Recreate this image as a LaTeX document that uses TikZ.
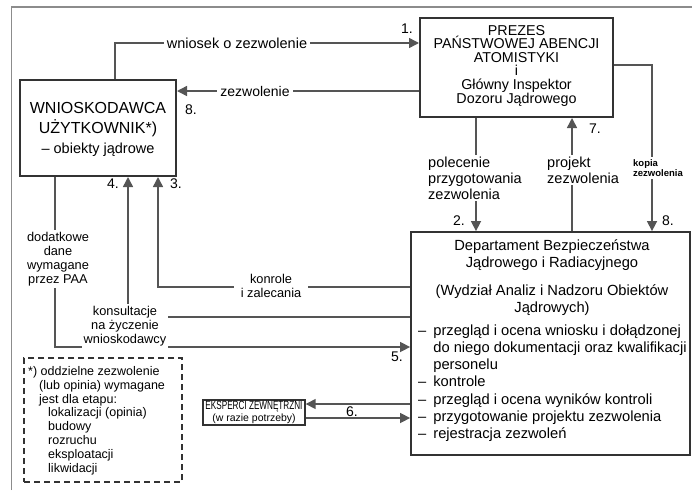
\documentclass[tikz,border=0pt]{standalone}
\usepackage{fontspec}
\setmainfont{Liberation Sans}
\newfontfamily\narrowfont[FakeStretch=0.68]{Liberation Sans}
\usetikzlibrary{arrows.meta}
\definecolor{lin}{HTML}{555555}
\definecolor{brd}{HTML}{333333}
\begin{document}
\begin{tikzpicture}[x=1pt,y=-1pt,
  box/.style={draw=brd,line width=2pt,fill=white,inner sep=0pt},
  conn/.style={draw=lin,line width=1.5pt},
  arr/.style={conn,-{Triangle[length=10pt,width=10pt]}},
  lbl/.style={fill=white,inner xsep=3pt,inner ysep=2pt},
  f145/.style={font=\fontsize{14.5}{16}\selectfont},
  f13/.style={font=\fontsize{12.8}{14.2}\selectfont},
  num/.style={font=\fontsize{14}{16}\selectfont,inner sep=0pt},
]
\useasboundingbox (0,0) rectangle (692,490);
\draw[draw=black!45,line width=1.3pt] (11.5,490) -- (11.5,7) -- (692,7);

% boxes
\node[box,minimum width=193pt,minimum height=99pt] (prez) at (516.5,67.5) {};
\node[align=center,font=\fontsize{14.3}{13.6}\selectfont] (prezt) at (516.5,65.5)
  {\lineskiplimit=-20pt\relax PREZES\\PAŃSTWOWEJ ABENCJI\\ATOMISTYKI\\i\\Główny Inspektor\\Dozoru Jądrowego};

\node[box,minimum width=156pt,minimum height=96pt] (wn) at (98,128) {};
\node[align=center,font=\fontsize{16}{20}\selectfont] (wnt) at (98,129)
  {WNIOSKODAWCA\\UŻYTKOWNIK*)\\\fontsize{14.5}{18}\selectfont – obiekty jądrowe};

\node[box,line width=1.8pt,minimum width=279pt,minimum height=223pt] (dbj) at (550.5,343.5) {};
\node[align=center,font=\fontsize{14.7}{17}\selectfont] (dbjt) at (552,255)
  {Departament Bezpieczeństwa\\Jądrowego i Radiacyjnego};
\node[align=center,font=\fontsize{14.7}{17}\selectfont] (dbjs) at (552,300)
  {(Wydział Analiz i Nadzoru Obiektów\\Jądrowych)};
\node[anchor=north west,inner sep=0pt,font=\fontsize{14.7}{17.2}\selectfont] (dbjl) at (418,323)
  {\begin{tabular}{@{}l@{\hspace{7pt}}l@{}}
   – & przegląd i ocena wniosku i dołądzonej\\
     & do niego dokumentacji oraz kwalifikacji\\
     & personelu\\
   – & kontrole\\
   – & przegląd i ocena wyników kontroli\\
   – & przygotowanie projektu zezwolenia\\
   – & rejestracja zezwoleń
   \end{tabular}};

\node[box,line width=1.4pt,minimum width=102pt,minimum height=25pt] (eks) at (254,412.5) {};
\node[align=center,inner sep=0pt] (ekst) at (254,412.5)
  {{\narrowfont\fontsize{12}{12.5}\selectfont EKSPERCI ZEWNĘTRZNI}\\{\fontsize{10.5}{12.5}\selectfont (w razie potrzeby)}};

\node[draw=black!80,dash pattern=on 6pt off 4pt,line width=1.3pt,minimum width=158pt,minimum height=124pt] (note) at (103,420) {};
\node[anchor=north west,align=left,inner sep=0pt,font=\fontsize{12.5}{13.9}\selectfont] (notet) at (28,366)
  {*) oddzielne zezwolenie\\
   \hspace*{11pt}(lub opinia) wymagane\\
   \hspace*{11pt}jest dla etapu:\\
   \hspace*{20pt}lokalizacji (opinia)\\
   \hspace*{20pt}budowy\\
   \hspace*{20pt}rozruchu\\
   \hspace*{20pt}eksploatacji\\
   \hspace*{20pt}likwidacji};

% helper coordinates
\coordinate (c1) at (115,43);
\coordinate (c2) at (0,91);
\coordinate (c3) at (476,0);
\coordinate (c4) at (572,0);
\coordinate (c5) at (652,65);
\coordinate (c6) at (158,287);
\coordinate (c7) at (128,317);
\coordinate (c8) at (55,347);
\coordinate (c9) at (0,404);
\coordinate (c10) at (0,418);

% connectors
\draw[arr] (wn.north -| c1) |- (prez.west |- c1);
\draw[arr] (prez.west |- c2) -- (wn.east |- c2);
\draw[arr] (prez.south -| c3) -- (dbj.north -| c3);
\draw[arr] (dbj.north -| c4) -- (prez.south -| c4);
\draw[arr] (prez.east |- c5) -| (dbj.north -| c5);
\draw[arr] (dbj.west |- c6) -| (wn.south -| c6);
\draw[arr] (dbj.west |- c7) -| (wn.south -| c7);
\draw[arr] (wn.south -| c8) |- (dbj.west |- c8);
\draw[arr] (dbj.west |- c9) -- (eks.east |- c9);
\draw[arr] (eks.east |- c10) -- (dbj.west |- c10);

% labels
\node[lbl,f145] (l1) at (237,43) {wniosek o zezwolenie};
\node[lbl,font=\fontsize{14}{16}\selectfont] (l2) at (255,91) {zezwolenie};
\node[lbl,f145,align=left,anchor=west] (l3) at (425,178) {polecenie\\przygotowania\\zezwolenia};
\node[lbl,f145,align=left,anchor=west] (l4) at (544,170) {projekt\\zezwolenia};
\node[lbl,align=left,anchor=west,inner xsep=1pt,font=\bfseries\fontsize{9.5}{10.5}\selectfont] (l5) at (632,168) {\lineskiplimit=-20pt\relax kopia\\zezwolenia};
\node[lbl,f13,align=center,inner xsep=7pt] (l6) at (271,286) {konrole\\i zalecania};
\node[lbl,f13,align=center,inner sep=2pt] (l7) at (125,326) {konsultacje\\na życzenie\\wnioskodawcy};
\node[lbl,f13,align=center] (l8) at (58,259) {dodatkowe\\dane\\wymagane\\przez PAA};

% step numbers
\node[num] (n1) at (407,29) {1.};
\node[num] (n8a) at (191,110) {8.};
\node[num] (n2) at (459,221) {2.};
\node[num] (n7) at (595,129) {7.};
\node[num] (n8b) at (668,221) {8.};
\node[num] (n4) at (113,184) {4.};
\node[num] (n3) at (176,184) {3.};
\node[num] (n5) at (397,357) {5.};
\node[num] (n6) at (352,412) {6.};
\end{tikzpicture}
\end{document}
